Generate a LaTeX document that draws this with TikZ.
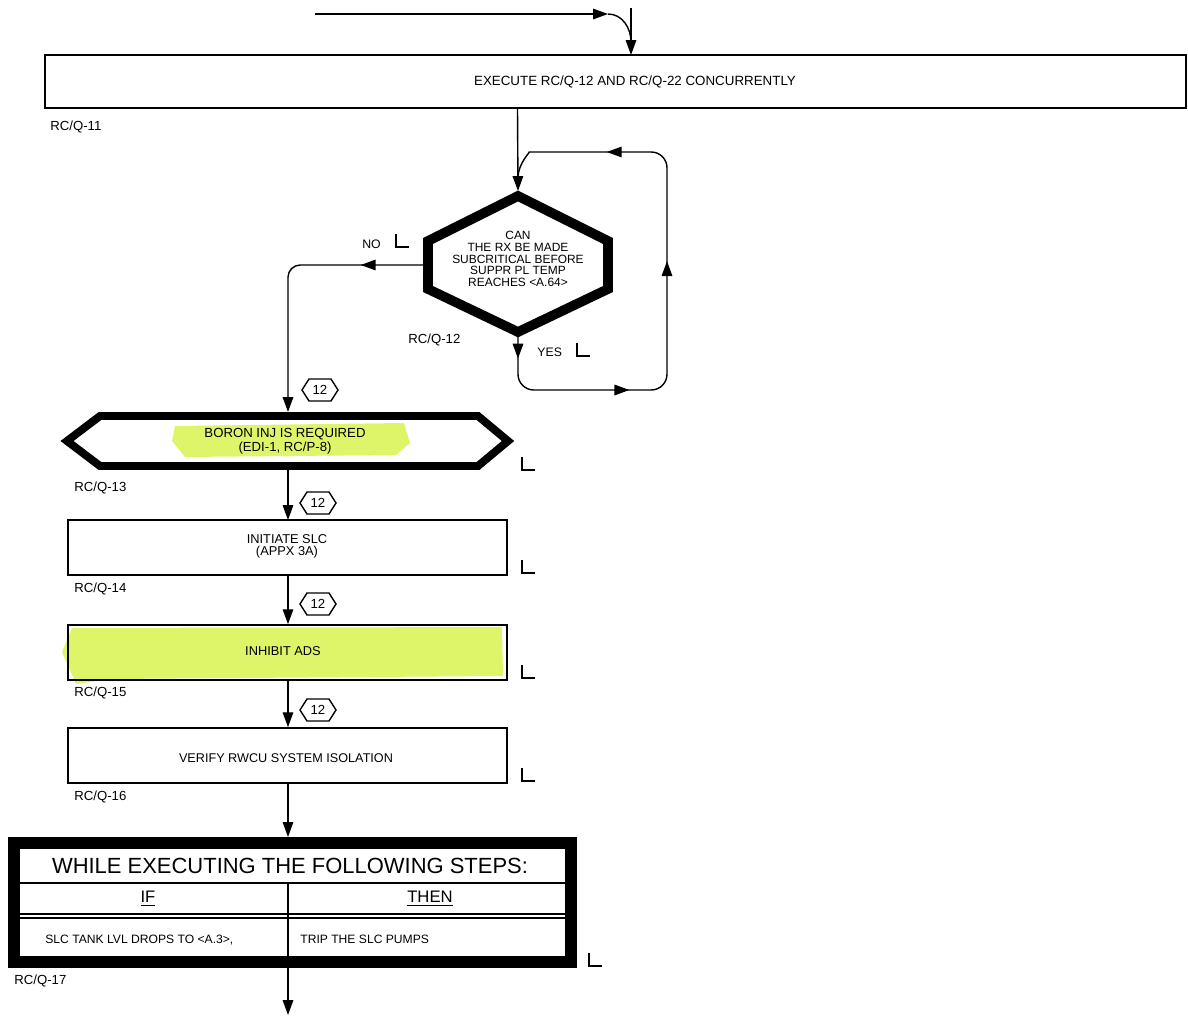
\documentclass[tikz,border=0pt]{standalone}
\usepackage{fontspec}
\setmainfont{Liberation Sans}
\usetikzlibrary{arrows.meta,decorations.markings,calc}
\definecolor{hl}{RGB}{222,245,105}
\begin{document}
\begin{tikzpicture}[x=0.02cm,y=-0.02cm,
  ln/.style={line width=0.8pt},
  tipend/.style={-{Triangle[length=8.5pt,width=6pt]}},
  midtip/.style={postaction={decorate},decoration={markings,mark=at position #1 with {\arrow{Triangle[length=8.5pt,width=6pt]}}}},
  txt/.style={font=\fontsize{7}{6.6}\selectfont, inner sep=0pt, align=center},
  lbl/.style={font=\fontsize{7.5}{8}\selectfont, inner sep=0pt, anchor=west},
  badge/.pic={\draw[line width=0.8pt] (-18,0) -- (-11,-11) -- (11,-11) -- (18,0) -- (11,11) -- (-11,11) -- cycle;
              \node[font=\fontsize{7.5}{8}\selectfont, inner sep=0pt] (-badgetext) at (0,0) {12};},
  lmark/.pic={\draw[line width=0.8pt] (0,0) -- (0,13) -- (13,13);}
]
\useasboundingbox (0,0) rectangle (1188,1017);

% ---- highlights
\fill[hl] (175,426) -- (404,423) -- (410,443) -- (396,455) -- (185,457) -- (172,441) -- cycle;
\fill[hl] (72,628) -- (502,627) -- (503,676) -- (110,679) -- (76,684) -- (62,652) -- cycle;

% ---- top entry
\coordinate (inS) at (315,14);
\coordinate (inE) at (608,14);
\coordinate (vTop) at (631,8);
\coordinate (vJoin) at (631,42);
\draw[ln,tipend] (inS) -- (inE);
\draw[ln] (inE) to[out=0,in=90] (vJoin);

% ---- top box
\node[draw, line width=0.9pt, minimum width=1141*0.02cm, minimum height=53*0.02cm, inner sep=0pt] (b11) at (615.5,81.5) {};
\node[txt, font=\fontsize{7.6}{7}\selectfont] (b11t) at (635,82) {EXECUTE RC/Q-12 AND RC/Q-22 CONCURRENTLY};
\node[lbl] (l11) at (50,127) {RC/Q-11};
\draw[ln,tipend] (vTop) -- (631,55);

% ---- decision hexagon
\coordinate (hT) at (518,196);
\coordinate (hB) at (518,332);
\coordinate (hL) at (423,265);
\draw[line width=5.5pt, line join=miter] (518,196) -- (608,241) -- (608,289) -- (518,332) -- (428,289) -- (428,241) -- cycle;
\node[txt, font=\fontsize{6.8}{6.6}\selectfont] (q12t) at (518,259) {CAN\\THE RX BE MADE\\SUBCRITICAL BEFORE\\SUPPR PL TEMP\\REACHES {<}A.64{>}};
\node[lbl] (l12) at (408,340) {RC/Q-12};
\node[lbl, font=\fontsize{7}{7}\selectfont] (no) at (362,244) {NO};
\node[lbl, font=\fontsize{7}{7}\selectfont] (yes) at (537,352) {YES};
\pic at (396,234) {lmark};
\pic at (577,343) {lmark};

\draw[ln,tipend] ($(b11.south)+(-98,0)$) -- (518,191);

% loop
\draw[ln, rounded corners=9pt, postaction={decorate},
  decoration={markings,
    mark=at position 0.045 with {\arrow{Triangle[length=8.5pt,width=6pt]}},
    mark=at position 0.275 with {\arrow{Triangle[length=8.5pt,width=6pt]}},
    mark=at position 0.545 with {\arrow{Triangle[length=8.5pt,width=6pt]}},
    mark=at position 0.82 with {\arrow{Triangle[length=8.5pt,width=6pt]}}}]
  (hB) -- (518,390) -- (667,390) -- (667,152) -- (545,152) [sharp corners] to[out=180,in=90] (518,178);

% ---- boron hexagon
\coordinate (bT) at (288,412);
\draw[line width=4.5pt, line join=miter] (67,441) -- (100,416) -- (478,416) -- (508,441) -- (478,466) -- (100,466) -- cycle;
\node[txt, font=\fontsize{7.5}{6.8}\selectfont] (b13t) at (285,441) {BORON INJ IS REQUIRED\\(EDI-1, RC/P-8)};
\node[lbl] (l13) at (74,488) {RC/Q-13};
\pic at (522,457) {lmark};

% NO path
\draw[ln, rounded corners=7pt, midtip=0.225, tipend] (hL) -| (bT);
\pic at (320,390) {badge};

% ---- box 14
\node[draw, line width=0.9pt, minimum width=439*0.02cm, minimum height=55*0.02cm, inner sep=0pt] (b14) at (287.5,547.5) {};
\node[txt, font=\fontsize{7.3}{6.8}\selectfont] (b14t) at (287,546) {INITIATE SLC\\(APPX 3A)};
\node[lbl] (l14) at (74,589) {RC/Q-14};
\pic at (522,560) {lmark};
\draw[ln,tipend] (288,470) -- (288,520);
\pic at (318,503) {badge};

% ---- box 15
\node[draw, line width=0.9pt, minimum width=439*0.02cm, minimum height=55*0.02cm, inner sep=0pt] (b15) at (287.5,652.5) {};
\node[txt, font=\fontsize{7.3}{7}\selectfont] (b15t) at (283,651) {INHIBIT ADS};
\node[lbl] (l15) at (74,693) {RC/Q-15};
\pic at (522,665) {lmark};
\draw[ln,tipend] (b14.south -| 288,0) -- (b15.north -| 288,0);
\pic at (318,604) {badge};

% ---- box 16
\node[draw, line width=0.9pt, minimum width=439*0.02cm, minimum height=55*0.02cm, inner sep=0pt] (b16) at (287.5,755.5) {};
\node[txt, font=\fontsize{7.2}{7}\selectfont] (b16t) at (286,758) {VERIFY RWCU SYSTEM ISOLATION};
\node[lbl] (l16) at (74,797) {RC/Q-16};
\pic at (522,768) {lmark};
\draw[ln,tipend] (b15.south -| 288,0) -- (b16.north -| 288,0);
\pic at (318,710) {badge};

% ---- table box
\node[draw, line width=6.8pt, minimum width=557*0.02cm, minimum height=119*0.02cm, inner sep=0pt] (b17) at (292.5,902.5) {};
\draw[ln] (18,883) -- (567,883);
\draw[ln] (18,914) -- (567,914);
\draw[ln] (18,918) -- (567,918);
\draw[ln] (288,883) -- (288,958);
\node[inner sep=0pt, font=\fontsize{12.5}{13}\selectfont] (b17title) at (290,866) {WHILE EXECUTING THE FOLLOWING STEPS:};
\node[inner sep=0pt, font=\fontsize{9.5}{10}\selectfont] (b17if) at (148,899) {\underline{IF}};
\node[inner sep=0pt, font=\fontsize{9.5}{10}\selectfont] (b17then) at (430,899) {\underline{THEN}};
\node[txt, anchor=west, font=\fontsize{6.9}{7}\selectfont] (b17c1) at (45,940) {SLC TANK LVL DROPS TO {<}A.3{>},};
\node[txt, anchor=west, font=\fontsize{6.9}{7}\selectfont] (b17c2) at (300,939) {TRIP THE SLC PUMPS};
\node[lbl] (l17) at (14,981) {RC/Q-17};
\pic at (589,953) {lmark};
\draw[ln,tipend] (b16.south -| 288,0) -- (288,837);
\coordinate (outE) at (288,1015);
\draw[ln,tipend] (288,968) -- (outE);
\end{tikzpicture}
\end{document}
